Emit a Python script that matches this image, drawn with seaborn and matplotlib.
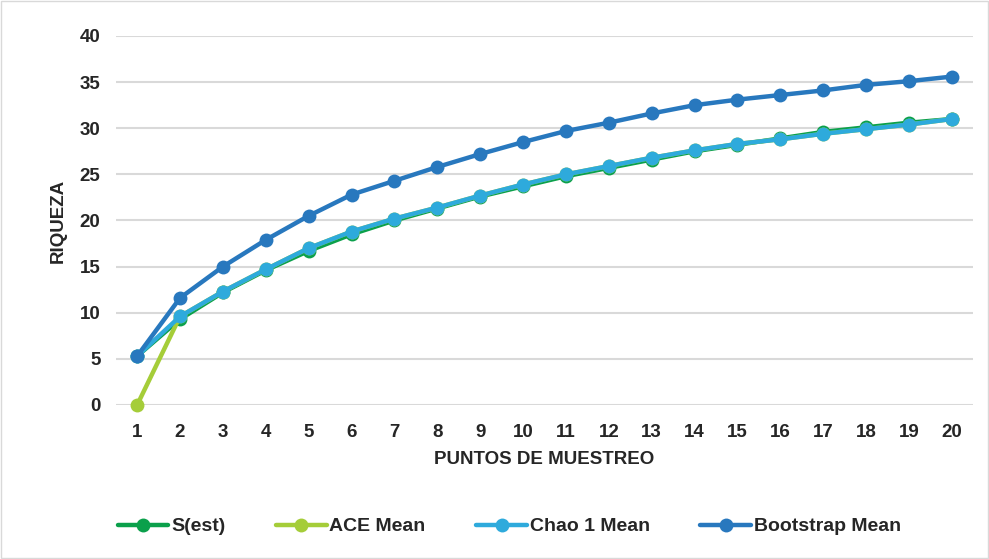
import numpy as np
import pandas as pd
import matplotlib
matplotlib.use("Agg")
import matplotlib.pyplot as plt
import seaborn as sns

# ============================================================
# Data
# ============================================================
puntos = list(range(1, 21))
s_est = [5.3, 9.3, 12.2, 14.6, 16.7, 18.5, 20.0, 21.3, 22.6, 23.7,
         24.8, 25.7, 26.6, 27.5, 28.2, 28.9, 29.6, 30.1, 30.6, 31.0]
ace_mean = [0.0, 9.6, 12.3, 14.7, 17.0, 18.8, 20.2, 21.4, 22.7, 23.9,
            25.0, 25.9, 26.8, 27.6, 28.3, 28.8, 29.4, 29.9, 30.4, 31.0]
chao1_mean = [5.3, 9.6, 12.3, 14.7, 17.0, 18.8, 20.2, 21.4, 22.7, 23.9,
              25.0, 25.9, 26.8, 27.6, 28.3, 28.8, 29.4, 29.9, 30.4, 31.0]
bootstrap_mean = [5.3, 11.6, 15.0, 17.9, 20.5, 22.8, 24.3, 25.8, 27.2, 28.5,
                  29.7, 30.6, 31.6, 32.5, 33.1, 33.6, 34.1, 34.7, 35.1, 35.6]

series_names = ["S(est)", "ACE Mean", "Chao 1 Mean", "Bootstrap Mean"]
colors = ["#0BA04B", "#A5CD39", "#2EAADC", "#2878BE"]

df = pd.DataFrame({
    "Punto": puntos * 4,
    "Riqueza": s_est + ace_mean + chao1_mean + bootstrap_mean,
    "Serie": [n for n in series_names for _ in puntos],
})

# ============================================================
# Plot
# ============================================================
sns.set_style("white")
plt.rcParams["font.family"] = ["Liberation Sans", "DejaVu Sans"]

fig = plt.figure(figsize=(9.89, 5.59), dpi=100)
ax = fig.add_axes([0.117, 0.2755, 0.867, 0.6601])

sns.lineplot(data=df, x="Punto", y="Riqueza", hue="Serie", hue_order=series_names,
             palette=colors, marker="o", markersize=10, markeredgewidth=0,
             linewidth=3.2, ax=ax, clip_on=False, zorder=3)

ax.set_xlim(0.5, 20.5)
ax.set_ylim(0, 40)
ax.set_xticks(puntos)
ax.set_yticks(range(0, 41, 5))
ax.grid(axis="y", color="#D9D9D9", linewidth=1.5, zorder=0)
ax.set_axisbelow(True)
for s in ax.spines.values():
    s.set_visible(False)
ax.tick_params(axis="x", length=0, labelsize=13.5, pad=14)
ax.tick_params(axis="y", length=0, labelsize=13.5, pad=11)
for lbl in ax.get_xticklabels() + ax.get_yticklabels():
    lbl.set_fontweight("bold")

ax.set_xlabel("PUNTOS DE MUESTREO", fontsize=13.5, fontweight="bold", labelpad=7)
ax.set_ylabel("RIQUEZA", fontsize=13.5, fontweight="bold", labelpad=9)

handles, labels = ax.get_legend_handles_labels()
ax.legend(handles, labels, loc="center", bbox_to_anchor=(0.515, 0.058),
          bbox_transform=fig.transFigure, ncol=4, frameon=False,
          prop={"size": 14, "weight": "bold"}, handlelength=2.6,
          columnspacing=2.6, handletextpad=0.15)

# light outer frame like the original chart area
fig.patches.append(plt.Rectangle((0.001, 0.001), 0.998, 0.998, transform=fig.transFigure,
                                 fill=False, edgecolor="#D9D9D9", linewidth=1))

fig.savefig("out.png", dpi=100)
